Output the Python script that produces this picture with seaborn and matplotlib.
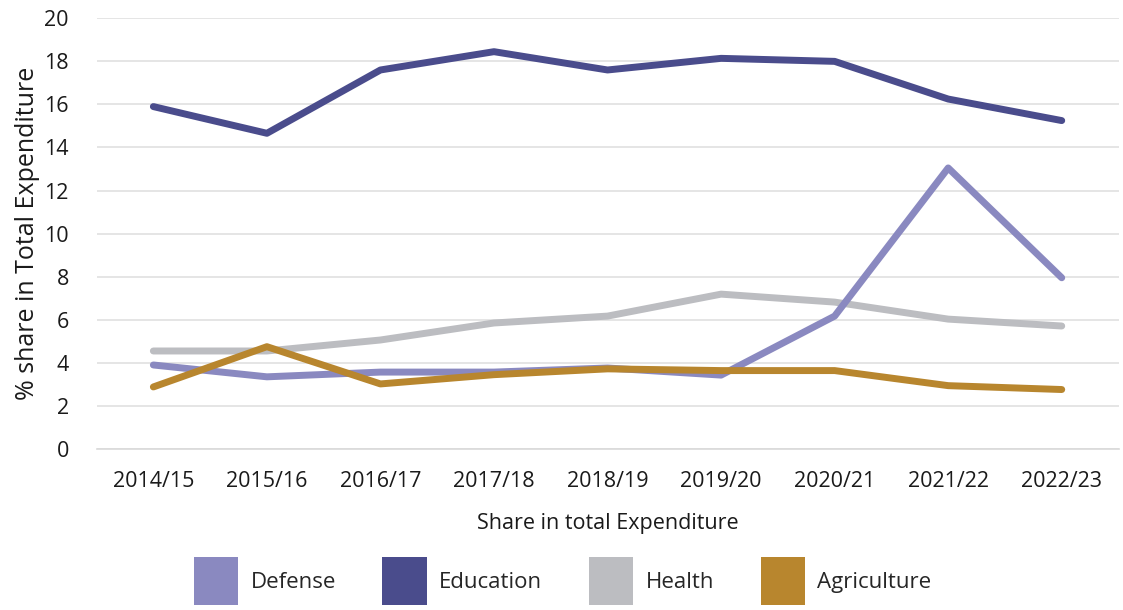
import pandas as pd
import matplotlib.pyplot as plt
import seaborn as sns
from matplotlib.patches import Patch

years = ["2014/15", "2015/16", "2016/17", "2017/18", "2018/19",
         "2019/20", "2020/21", "2021/22", "2022/23"]
defense = [3.9, 3.35, 3.57, 3.57, 3.76, 3.43, 6.17, 13.05, 7.95]
education = [15.9, 14.66, 17.6, 18.45, 17.6, 18.14, 18.0, 16.25, 15.25]
health = [4.55, 4.55, 5.06, 5.85, 6.17, 7.19, 6.82, 6.03, 5.71]
agriculture = [2.88, 4.75, 3.02, 3.45, 3.72, 3.64, 3.64, 2.94, 2.76]

series = ["Defense", "Education", "Health", "Agriculture"]
colors = {"Defense": "#8A89C0", "Education": "#4A4C8C",
          "Health": "#BCBDC1", "Agriculture": "#B8862E"}

df = pd.DataFrame({"Year": years, "Defense": defense, "Education": education,
                   "Health": health, "Agriculture": agriculture})
df_long = df.melt(id_vars="Year", var_name="Sector", value_name="Share")

sns.set_style("white")
plt.rcParams['font.family'] = ['Open Sans', 'DejaVu Sans']

fig, ax = plt.subplots(figsize=(11.23, 6.10), dpi=100)
fig.subplots_adjust(left=0.086, right=0.996, top=0.97, bottom=0.264)

# draw order: health under defense, agriculture on top
for name in ["Health", "Defense", "Education", "Agriculture"]:
    sub = df_long[df_long["Sector"] == name]
    sns.lineplot(data=sub, x="Year", y="Share", color=colors[name], lw=5,
                 solid_capstyle="round", solid_joinstyle="round", ax=ax,
                 sort=False, legend=False)

ax.set_xlim(-0.5, len(years) - 0.5)
ax.set_ylim(0, 20)
ax.set_yticks(range(0, 21, 2))
ax.grid(axis="y", color="#E0E0E0", lw=1.2)
ax.set_axisbelow(True)
for s in ["top", "right", "left"]:
    ax.spines[s].set_visible(False)
ax.spines["bottom"].set_color("#D9D9D9")
ax.spines["bottom"].set_linewidth(1.2)
ax.tick_params(axis="x", direction="in", length=9, color="#D9D9D9",
               labelsize=15.5, pad=16, labelcolor="#1a1a1a")
ax.tick_params(axis="y", length=0, labelsize=15.5, pad=20, labelcolor="#1a1a1a")
ax.set_xlabel("Share in total Expenditure", fontsize=15.5, labelpad=15, color="#1a1a1a")
ax.set_ylabel("% share in Total Expenditure", fontsize=18, labelpad=3, color="#1a1a1a")

handles = [Patch(facecolor=colors[n], edgecolor="none") for n in series]
fig.legend(handles, series, loc="lower center", bbox_to_anchor=(0.501, -0.024),
           ncol=4, frameon=False, fontsize=16, handlelength=2.0, handleheight=2.9,
           handletextpad=0.55, columnspacing=2.1)

plt.savefig("out.png", dpi=100)
